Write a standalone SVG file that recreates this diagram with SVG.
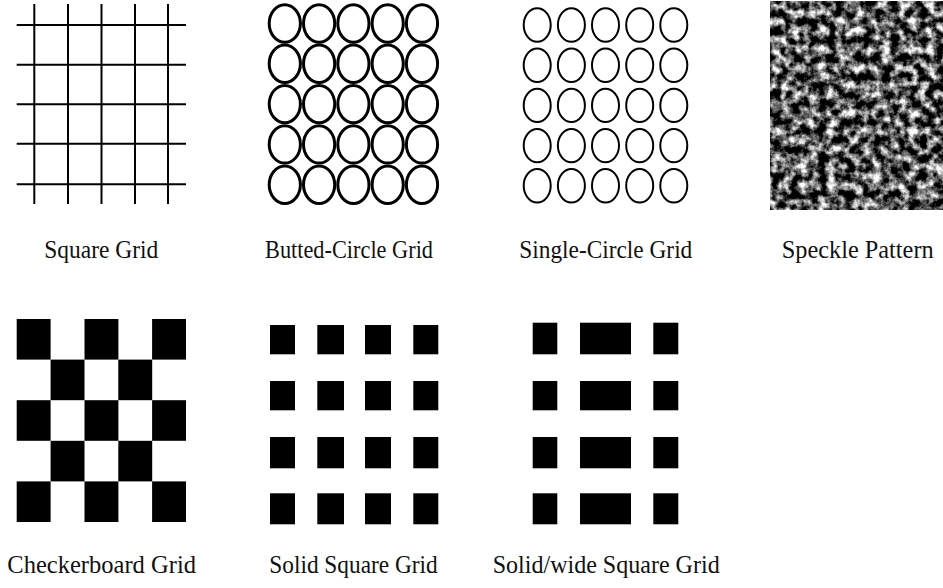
<svg xmlns="http://www.w3.org/2000/svg" width="943" height="588" viewBox="0 0 943 588">
<style>
.ln{stroke:#000;stroke-width:2;fill:none}
.bc{stroke:#000;stroke-width:3;fill:none}
.sc{stroke:#000;stroke-width:2;fill:none}
.blk{fill:#000}
.lbl{font-family:"Liberation Serif","Times New Roman",serif;font-size:25px;fill:#111}
</style>
<defs>
<filter id="speckle" x="0" y="0" width="100%" height="100%" color-interpolation-filters="sRGB">
<feTurbulence type="fractalNoise" baseFrequency="0.11" numOctaves="4" seed="23" result="n"/>
<feColorMatrix in="n" type="matrix" values="2.5 0 0 0 -0.9  2.5 0 0 0 -0.9  2.5 0 0 0 -0.9  0 0 0 0 1"/>
</filter>
</defs>
<rect width="943" height="588" fill="#fff"/>

<g id="square-grid">
<g class="ln">
<line x1="34.3" y1="4" x2="34.3" y2="204"/>
<line x1="68" y1="4" x2="68" y2="204"/>
<line x1="101.5" y1="4" x2="101.5" y2="204"/>
<line x1="135" y1="4" x2="135" y2="204"/>
<line x1="168" y1="4" x2="168" y2="204"/>
<line x1="16.7" y1="25" x2="186" y2="25"/>
<line x1="16.7" y1="64.7" x2="186" y2="64.7"/>
<line x1="16.7" y1="104.3" x2="186" y2="104.3"/>
<line x1="16.7" y1="143.8" x2="186" y2="143.8"/>
<line x1="16.7" y1="184.3" x2="186" y2="184.3"/>
</g>
<text class="lbl" x="44.3" y="258" textLength="114" lengthAdjust="spacingAndGlyphs">Square Grid</text>
</g>

<g id="butted-circle-grid">
<g class="bc">
<ellipse cx="284.8" cy="23.5" rx="15.6" ry="18.7"/><ellipse cx="319.1" cy="23.5" rx="15.6" ry="18.7"/><ellipse cx="353.4" cy="23.5" rx="15.6" ry="18.7"/><ellipse cx="387.7" cy="23.5" rx="15.6" ry="18.7"/><ellipse cx="422" cy="23.5" rx="15.6" ry="18.7"/>
<ellipse cx="284.8" cy="63.8" rx="15.6" ry="18.7"/><ellipse cx="319.1" cy="63.8" rx="15.6" ry="18.7"/><ellipse cx="353.4" cy="63.8" rx="15.6" ry="18.7"/><ellipse cx="387.7" cy="63.8" rx="15.6" ry="18.7"/><ellipse cx="422" cy="63.8" rx="15.6" ry="18.7"/>
<ellipse cx="284.8" cy="104.1" rx="15.6" ry="18.7"/><ellipse cx="319.1" cy="104.1" rx="15.6" ry="18.7"/><ellipse cx="353.4" cy="104.1" rx="15.6" ry="18.7"/><ellipse cx="387.7" cy="104.1" rx="15.6" ry="18.7"/><ellipse cx="422" cy="104.1" rx="15.6" ry="18.7"/>
<ellipse cx="284.8" cy="144.4" rx="15.6" ry="18.7"/><ellipse cx="319.1" cy="144.4" rx="15.6" ry="18.7"/><ellipse cx="353.4" cy="144.4" rx="15.6" ry="18.7"/><ellipse cx="387.7" cy="144.4" rx="15.6" ry="18.7"/><ellipse cx="422" cy="144.4" rx="15.6" ry="18.7"/>
<ellipse cx="284.8" cy="184.7" rx="15.6" ry="18.7"/><ellipse cx="319.1" cy="184.7" rx="15.6" ry="18.7"/><ellipse cx="353.4" cy="184.7" rx="15.6" ry="18.7"/><ellipse cx="387.7" cy="184.7" rx="15.6" ry="18.7"/><ellipse cx="422" cy="184.7" rx="15.6" ry="18.7"/>
</g>
<text class="lbl" x="265" y="258" textLength="168" lengthAdjust="spacingAndGlyphs">Butted-Circle Grid</text>
</g>

<g id="single-circle-grid">
<g class="sc">
<ellipse cx="537.2" cy="25" rx="13.5" ry="16.7"/><ellipse cx="571.4" cy="25" rx="13.5" ry="16.7"/><ellipse cx="605.5" cy="25" rx="13.5" ry="16.7"/><ellipse cx="639.7" cy="25" rx="13.5" ry="16.7"/><ellipse cx="673.8" cy="25" rx="13.5" ry="16.7"/>
<ellipse cx="537.2" cy="65.2" rx="13.5" ry="16.7"/><ellipse cx="571.4" cy="65.2" rx="13.5" ry="16.7"/><ellipse cx="605.5" cy="65.2" rx="13.5" ry="16.7"/><ellipse cx="639.7" cy="65.2" rx="13.5" ry="16.7"/><ellipse cx="673.8" cy="65.2" rx="13.5" ry="16.7"/>
<ellipse cx="537.2" cy="105.4" rx="13.5" ry="16.7"/><ellipse cx="571.4" cy="105.4" rx="13.5" ry="16.7"/><ellipse cx="605.5" cy="105.4" rx="13.5" ry="16.7"/><ellipse cx="639.7" cy="105.4" rx="13.5" ry="16.7"/><ellipse cx="673.8" cy="105.4" rx="13.5" ry="16.7"/>
<ellipse cx="537.2" cy="145.6" rx="13.5" ry="16.7"/><ellipse cx="571.4" cy="145.6" rx="13.5" ry="16.7"/><ellipse cx="605.5" cy="145.6" rx="13.5" ry="16.7"/><ellipse cx="639.7" cy="145.6" rx="13.5" ry="16.7"/><ellipse cx="673.8" cy="145.6" rx="13.5" ry="16.7"/>
<ellipse cx="537.2" cy="185.8" rx="13.5" ry="16.7"/><ellipse cx="571.4" cy="185.8" rx="13.5" ry="16.7"/><ellipse cx="605.5" cy="185.8" rx="13.5" ry="16.7"/><ellipse cx="639.7" cy="185.8" rx="13.5" ry="16.7"/><ellipse cx="673.8" cy="185.8" rx="13.5" ry="16.7"/>
</g>
<text class="lbl" x="519.3" y="258" textLength="173" lengthAdjust="spacingAndGlyphs">Single-Circle Grid</text>
</g>

<g id="speckle-pattern">
<rect x="770.7" y="1" width="172.3" height="208.3" fill="#555" filter="url(#speckle)"/>
<text class="lbl" x="781.7" y="258" textLength="152" lengthAdjust="spacingAndGlyphs">Speckle Pattern</text>
</g>

<g id="checkerboard-grid">
<g class="blk">
<rect x="16.7" y="319" width="33.9" height="40.6"/><rect x="84.5" y="319" width="33.9" height="40.6"/><rect x="152.1" y="319" width="33.9" height="40.6"/>
<rect x="50.6" y="359.6" width="33.9" height="40.6"/><rect x="118.3" y="359.6" width="33.9" height="40.6"/>
<rect x="16.7" y="400.2" width="33.9" height="40.6"/><rect x="84.5" y="400.2" width="33.9" height="40.6"/><rect x="152.1" y="400.2" width="33.9" height="40.6"/>
<rect x="50.6" y="440.8" width="33.9" height="40.6"/><rect x="118.3" y="440.8" width="33.9" height="40.6"/>
<rect x="16.7" y="481.4" width="33.9" height="40.6"/><rect x="84.5" y="481.4" width="33.9" height="40.6"/><rect x="152.1" y="481.4" width="33.9" height="40.6"/>
</g>
<text class="lbl" x="7.3" y="573" textLength="188.7" lengthAdjust="spacingAndGlyphs">Checkerboard Grid</text>
</g>

<g id="solid-square-grid">
<g class="blk">
<rect x="270" y="325" width="25" height="29.3"/><rect x="317.3" y="325" width="26.7" height="29.3"/><rect x="365" y="325" width="26" height="29.3"/><rect x="413.3" y="325" width="25" height="29.3"/>
<rect x="270" y="381" width="25" height="29.3"/><rect x="317.3" y="381" width="26.7" height="29.3"/><rect x="365" y="381" width="26" height="29.3"/><rect x="413.3" y="381" width="25" height="29.3"/>
<rect x="270" y="437" width="25" height="31.3"/><rect x="317.3" y="437" width="26.7" height="31.3"/><rect x="365" y="437" width="26" height="31.3"/><rect x="413.3" y="437" width="25" height="31.3"/>
<rect x="270" y="493.3" width="25" height="31"/><rect x="317.3" y="493.3" width="26.7" height="31"/><rect x="365" y="493.3" width="26" height="31"/><rect x="413.3" y="493.3" width="25" height="31"/>
</g>
<text class="lbl" x="269.3" y="573" textLength="168.4" lengthAdjust="spacingAndGlyphs">Solid Square Grid</text>
</g>

<g id="solid-wide-square-grid">
<g class="blk">
<rect x="532.7" y="322.7" width="24.6" height="31.6"/><rect x="580" y="322.7" width="51" height="31.6"/><rect x="653.3" y="322.7" width="25" height="31.6"/>
<rect x="532.7" y="381" width="24.6" height="29.3"/><rect x="580" y="381" width="51" height="29.3"/><rect x="653.3" y="381" width="25" height="29.3"/>
<rect x="532.7" y="437" width="24.6" height="31.3"/><rect x="580" y="437" width="51" height="31.3"/><rect x="653.3" y="437" width="25" height="31.3"/>
<rect x="532.7" y="493.3" width="24.6" height="31"/><rect x="580" y="493.3" width="51" height="31"/><rect x="653.3" y="493.3" width="25" height="31"/>
</g>
<text class="lbl" x="492.7" y="573" textLength="227" lengthAdjust="spacingAndGlyphs">Solid/wide Square Grid</text>
</g>
</svg>
